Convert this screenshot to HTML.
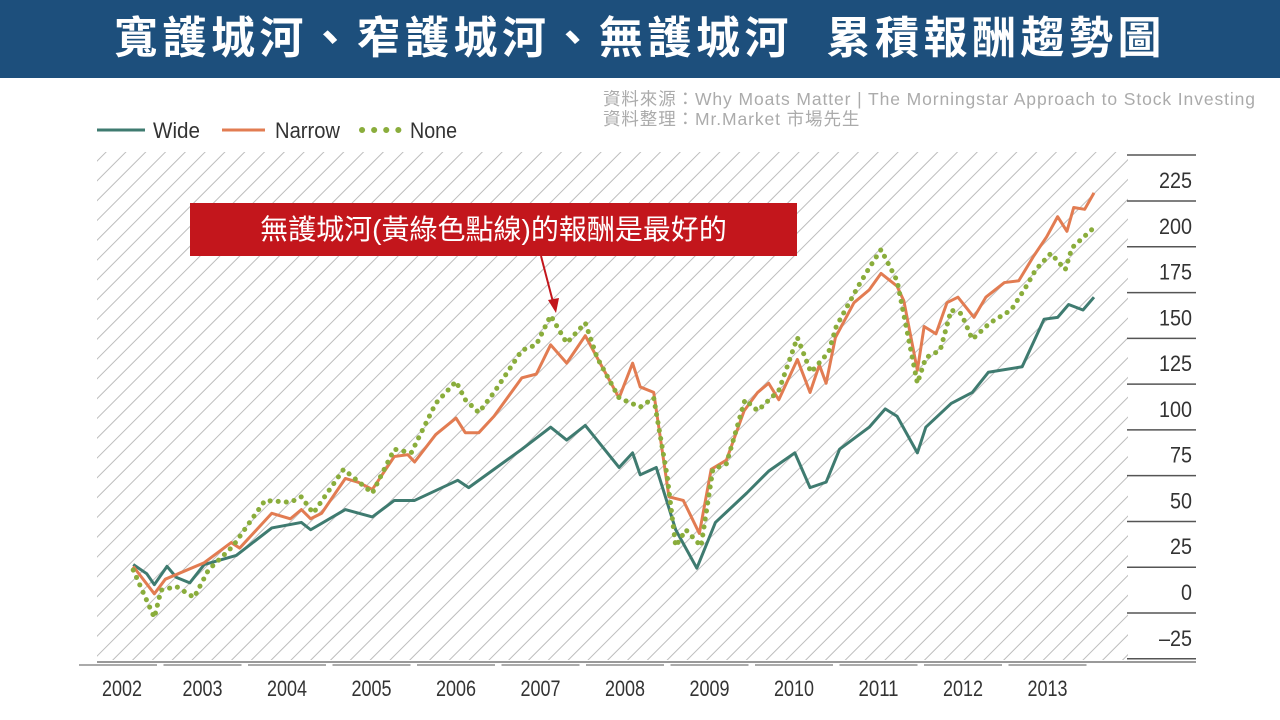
<!DOCTYPE html>
<html><head><meta charset="utf-8">
<style>
body{margin:0;width:1280px;height:720px;background:#fff;overflow:hidden;font-family:"Liberation Sans","Noto Sans CJK TC",sans-serif;position:relative}
#title{position:absolute;left:0;top:0;width:1280px;height:78px;background:#1d4f7c;color:#fff;font:bold 44px "Liberation Sans","Noto Sans CJK TC",sans-serif;text-align:center;line-height:78px;letter-spacing:4.5px}
.src{position:absolute;left:603px;color:#ababab;font-size:17.5px;line-height:20px;letter-spacing:0.9px}
#note{position:absolute;left:190px;top:203px;width:607px;height:53px;background:#c3161c;color:#fff;font-size:28px;line-height:53px;text-align:center}
</style></head><body>
<div id="title">寬護城河、窄護城河、無護城河&nbsp;&nbsp;累積報酬趨勢圖</div>
<div class="src" style="top:89px">資料來源：Why Moats Matter | The Morningstar Approach to Stock Investing</div>
<div class="src" style="top:109px">資料整理：Mr.Market 市場先生</div>
<svg id="chart" width="1280" height="720" style="position:absolute;left:0;top:0">
<defs><pattern id="hatch" width="14" height="14" patternUnits="userSpaceOnUse" patternTransform="rotate(45)"><line x1="0" y1="0" x2="0" y2="14" stroke="#bdbdbd" stroke-width="2"/></pattern></defs>
</svg>
<div id="note">無護城河(黃綠色點線)的報酬是最好的</div>
<script>
const yearLabels=[2002,2003,2004,2005,2006,2007,2008,2009,2010,2011,2012,2013];
const yTicks=[-25,0,25,50,75,100,125,150,175,200,225];
const wideT=[.18,.34,.43,.58,.69,.85,1.02,1.40,1.82,2.17,2.28,2.69,3.01,3.27,3.51,4.02,4.15,4.78,5.12,5.31,5.53,5.93,6.09,6.18,6.37,6.60,6.85,7.07,7.44,7.70,8.01,8.19,8.38,8.54,8.89,9.08,9.22,9.46,9.56,9.86,10.11,10.30,10.70,10.96,11.12,11.25,11.42,11.55];
const wideV=[15,10,4,14,8,5,15,20,35,38,34,45,41,50,50,61,57,78,90,83,91,68,76,64,68,34,13,38,54,66,76,57,60,78,90,100,96,76,90,103,109,120,123,149,150,157,154,161];
const narrowT=[.18,.43,.56,1.02,1.34,1.44,1.82,2.04,2.17,2.28,2.41,2.69,2.84,3.01,3.27,3.43,3.51,3.76,4.00,4.11,4.27,4.45,4.78,4.95,5.12,5.31,5.53,5.67,5.93,6.09,6.18,6.34,6.52,6.69,6.88,7.02,7.20,7.41,7.57,7.70,7.82,8.04,8.19,8.30,8.38,8.49,8.71,8.89,9.03,9.22,9.30,9.46,9.54,9.68,9.81,9.94,10.13,10.27,10.49,10.66,10.83,10.99,11.12,11.23,11.31,11.44,11.55];
const narrowV=[14,-1,7,16,27,24,43,40,45,40,43,62,60,56,74,75,71,86,95,87,87,96,117,119,135,125,140,128,106,125,112,109,52,50,32,67,72,99,109,114,105,127,109,124,114,139,158,165,174,167,159,121,145,141,158,161,150,161,169,170,183,194,205,197,210,209,218];
const noneT=[.18,.43,.51,.69,.90,1.07,1.36,1.74,2.04,2.17,2.31,2.67,3.01,3.27,3.47,3.76,4.00,4.11,4.27,4.45,4.78,4.95,5.12,5.31,5.53,5.67,5.93,6.18,6.34,6.50,6.60,6.72,6.90,7.04,7.20,7.42,7.57,7.82,8.04,8.20,8.41,8.50,8.76,8.89,9.03,9.22,9.46,9.56,9.73,9.86,9.98,10.11,10.32,10.57,10.75,10.86,11.04,11.21,11.29,11.55];
const noneV=[12,-14,1,3,-3,12,25,50,49,52,43,67,54,78,76,103,115,105,98,109,132,135,151,136,147,128,106,101,106,63,25,34,25,67,70,105,99,110,139,120,131,145,167,177,187,170,114,128,132,154,152,138,147,154,167,176,185,176,188,199];
const X=t=>118+t*84.5, Y=v=>592-v*1.831;
const svg=document.getElementById('chart'),NS='http://www.w3.org/2000/svg';
function mk(tag,attrs,parent){const e=document.createElementNS(NS,tag);for(const k in attrs)e.setAttribute(k,attrs[k]);(parent||svg).appendChild(e);return e;}
let r=mk('rect',{x:97,y:152,width:1031,height:508,fill:'url(#hatch)'});


let g=mk('g',{});


mk('line',{x1:97,y1:130,x2:145,y2:130,stroke:'#3f7b70','stroke-width':3},g);
mk('text',{x:153,y:138,'font-size':22,fill:'#333',textLength:47,lengthAdjust:'spacingAndGlyphs'},g).textContent='Wide';
mk('line',{x1:222,y1:130,x2:265,y2:130,stroke:'#e27c52','stroke-width':3},g);
mk('text',{x:275,y:138,'font-size':22,fill:'#333',textLength:65,lengthAdjust:'spacingAndGlyphs'},g).textContent='Narrow';
mk('line',{x1:362,y1:130,x2:400,y2:130,stroke:'#8aad3c','stroke-width':6,'stroke-dasharray':'0.1 12','stroke-linecap':'round'},g);
mk('text',{x:410,y:138,'font-size':22,fill:'#333',textLength:47,lengthAdjust:'spacingAndGlyphs'},g).textContent='None';
yTicks.forEach(v=>{
 const s=v<0?'\u2013'+(-v):String(v);
 const t=mk('text',{x:1192,y:Y(v)+8,'font-size':22,fill:'#333','text-anchor':'end',textLength:s.length*11,lengthAdjust:'spacingAndGlyphs'});
 
 
 t.textContent=s;
 mk('line',{x1:1127,x2:1196,y1:Y(v)+21,y2:Y(v)+21,stroke:'#555','stroke-width':1.5});
});
mk('line',{x1:1127,x2:1196,y1:155,y2:155,stroke:'#555','stroke-width':1.5});
mk('line',{x1:97,x2:1196,y1:662,y2:662,stroke:'#999','stroke-width':2});
yearLabels.forEach((yr,i)=>{
 mk('line',{x1:X(i)-39,x2:X(i)+39,y1:665,y2:665,stroke:'#aaa','stroke-width':2});
 const t=mk('text',{x:X(i)+(i===0?4:0),y:696,'font-size':22,fill:'#333','text-anchor':'middle',textLength:40,lengthAdjust:'spacingAndGlyphs'});
 
 
 t.textContent=yr;
});
function series(T,V,attrs,name){
 const p=mk('polyline',Object.assign({points:T.map((t,i)=>X(t)+','+Y(V[i])).join(' '),fill:'none','stroke-linejoin':'round'},attrs));
 
 
}
series(wideT,wideV,{stroke:'#3f7b70','stroke-width':3},'wide-line');
series(narrowT,narrowV,{stroke:'#e27c52','stroke-width':3},'narrow-line');
series(noneT,noneV,{stroke:'#8aad3c','stroke-width':5,'stroke-dasharray':'0.1 8','stroke-linecap':'round'},'none-line');
let a=mk('g',{});


mk('line',{x1:541,y1:256,x2:553,y2:302,stroke:'#c3161c','stroke-width':2},a);
mk('polygon',{points:'548,300 559,298 556,313',fill:'#c3161c'},a);
</script>
</body></html>
